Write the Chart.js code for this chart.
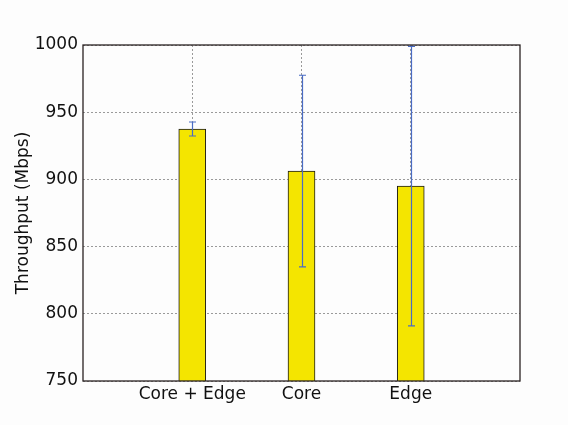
<!DOCTYPE html>
<html>
<head>
<meta charset="utf-8">
<script src="https://cdn.jsdelivr.net/npm/chart.js@4/dist/chart.umd.min.js"></script>
<style>
  html, body { margin: 0; padding: 0; background: #fdfdfd; }
  #wrap { width: 568px; height: 425px; }
</style>
</head>
<body>
<div id="wrap"><canvas id="c" width="568" height="425"></canvas></div>
<script>
// Deployment scenarios and their measured mean throughput with spread
const categories = ['Core + Edge', 'Core', 'Edge'];
const throughput = [937.5, 906.2, 895.0];
const errors = [5.2, 71.3, 104.0];
const yTicks = [750, 800, 850, 900, 950, 1000];

const FONT = { family: "'DejaVu Sans', sans-serif", size: 17 };

// Vertical error bars with caps, placed through the chart's own scales
const errorBars = {
  id: 'errorBars',
  afterDatasetsDraw(chart) {
    const { ctx, scales: { x, y } } = chart;
    ctx.save();
    ctx.strokeStyle = '#4a6cc4';
    ctx.lineWidth = 1.2;
    throughput.forEach((v, i) => {
      const px = Math.round(x.getPixelForValue(i)) + 0.5;
      const top = y.getPixelForValue(v + errors[i]);
      const bot = y.getPixelForValue(v - errors[i]);
      ctx.beginPath();
      ctx.moveTo(px, top); ctx.lineTo(px, bot);
      ctx.moveTo(px - 3.5, top); ctx.lineTo(px + 3.5, top);
      ctx.moveTo(px - 3.5, bot); ctx.lineTo(px + 3.5, bot);
      ctx.stroke();
    });
    ctx.restore();
  },
  afterDraw(chart) {
    // axes frame around the plotting area
    const { ctx, chartArea: a } = chart;
    ctx.save();
    ctx.strokeStyle = '#2a2222';
    ctx.lineWidth = 1.3;
    ctx.strokeRect(a.left, a.top, a.right - a.left, a.bottom - a.top);
    ctx.restore();
  }
};

new Chart(document.getElementById('c'), {
  type: 'bar',
  data: {
    datasets: [{
      data: throughput.map((v, i) => ({ x: i, y: v })),
      backgroundColor: '#f4e500',
      borderColor: '#1a1a1a',
      borderWidth: 1,
      barThickness: 27
    }]
  },
  options: {
    responsive: false,
    animation: false,
    events: [],
    layout: { padding: { top: 45, right: 48, left: 0, bottom: 0 } },
    plugins: { legend: { display: false }, tooltip: { enabled: false } },
    scales: {
      x: {
        type: 'linear',
        min: -1,
        max: 3,
        offset: false,
        z: 1,
        afterBuildTicks(s) { s.ticks = categories.map((_, i) => ({ value: i })); },
        afterFit(s) { s.height = 44; },
        ticks: {
          callback: (v) => categories[v] ?? '',
          font: FONT,
          color: '#111',
          padding: 3,
          maxRotation: 0,
          autoSkip: false
        },
        grid: { color: '#9a9a9a', lineWidth: 1, drawTicks: false, offset: false },
        border: { display: false, dash: [2, 2] }
      },
      y: {
        min: 750,
        max: 1000,
        z: 1,
        afterBuildTicks(s) { s.ticks = yTicks.map(v => ({ value: v })); },
        afterFit(s) { s.width = 83; },
        ticks: { font: FONT, color: '#111', padding: 5, callback: (v) => String(v) },
        grid: { color: '#9a9a9a', lineWidth: 1, drawTicks: false },
        border: { display: false, dash: [2, 2] },
        title: {
          display: true,
          text: 'Throughput (Mbps)',
          font: FONT,
          color: '#111',
          padding: { top: 13, bottom: 0 }
        }
      }
    }
  },
  plugins: [errorBars]
});
</script>
</body>
</html>
